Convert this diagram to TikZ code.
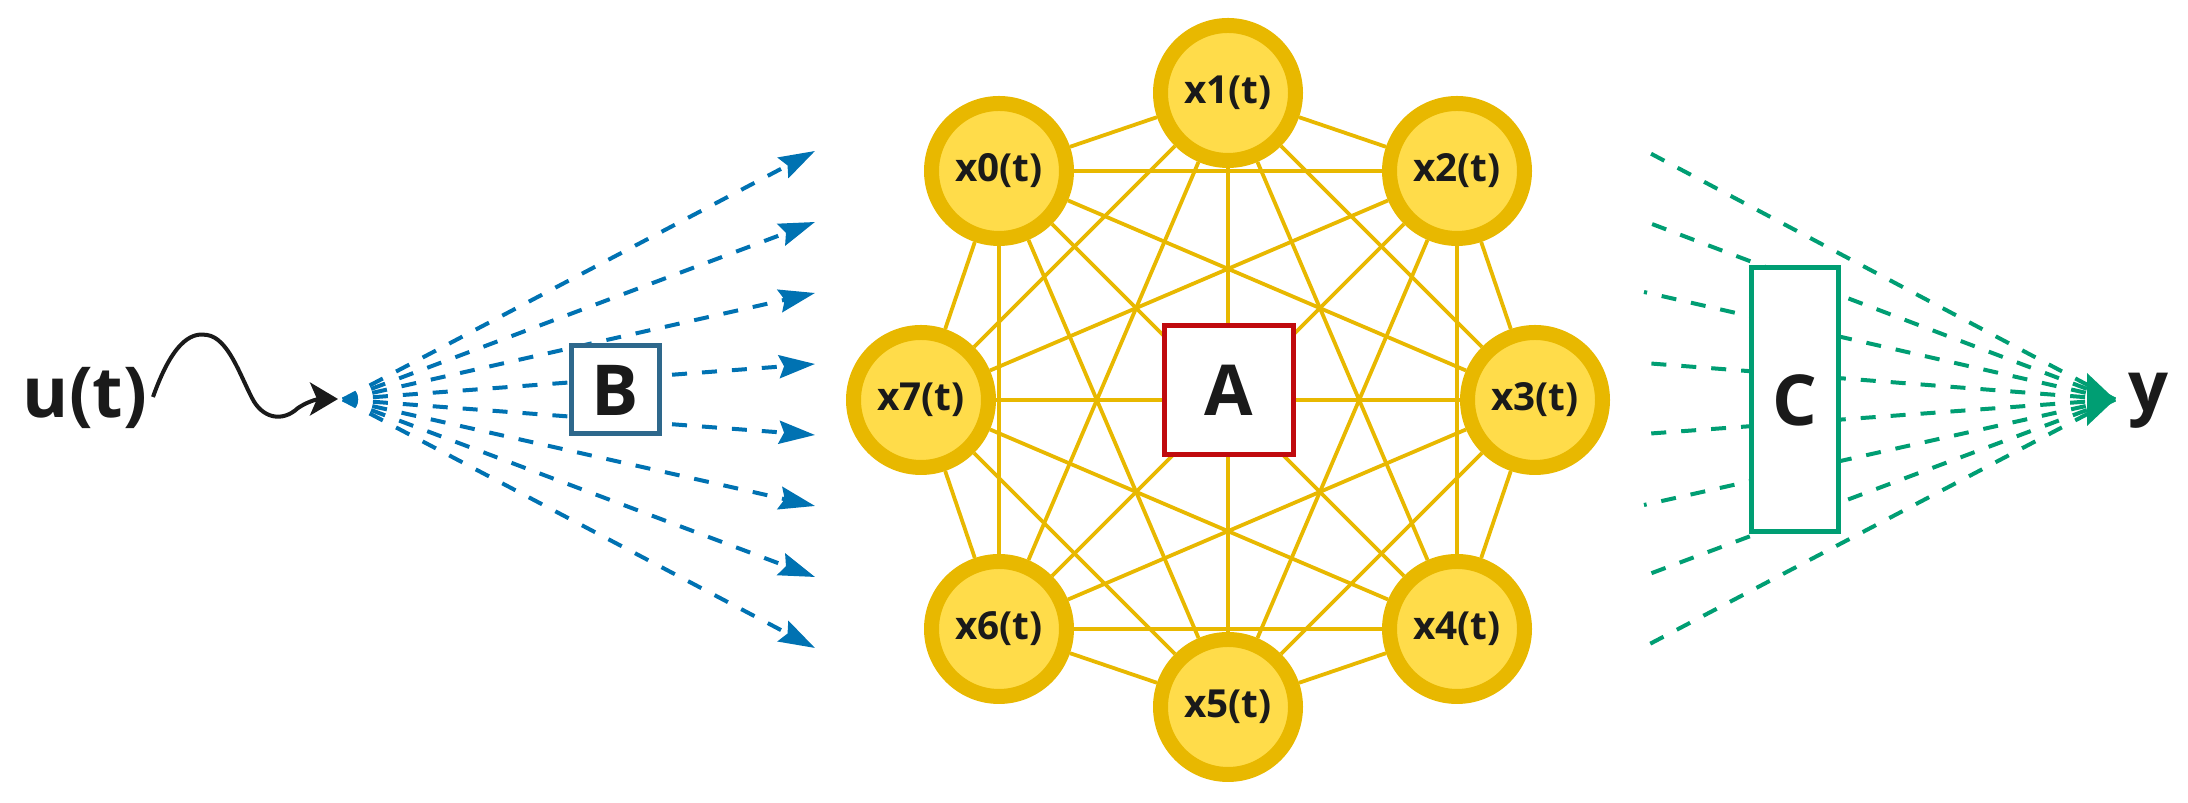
\documentclass[tikz,border=0pt]{standalone}
\usepackage{fontspec}
\setmainfont{Open Sans}
\usetikzlibrary{arrows.meta}
\definecolor{ringyel}{RGB}{232,184,0}
\definecolor{fillyel}{RGB}{255,220,74}
\definecolor{fanblue}{RGB}{0,114,178}
\definecolor{fangreen}{RGB}{0,158,115}
\definecolor{boxred}{RGB}{192,10,14}
\definecolor{boxsteel}{RGB}{46,104,140}
\definecolor{ink}{RGB}{26,26,26}
\tikzset{
  every node/.style = {font = \bfseries, text = ink}
}
\tikzset{
  state/.style = {circle, draw=ringyel, fill=fillyel, line width=1.5mm,
    minimum size=13.5mm, inner sep=0pt, font=\fontsize{11}{13}\bfseries},
  matbox/.style = {rectangle, fill=white, line width=0.5mm, inner sep=0pt,
    font=\fontsize{20}{24}\bfseries},
  link/.style = {ringyel, line width=0.38mm},
  bfan/.style = {fanblue, line width=0.4mm, dash pattern=on 1.5mm off 1.5mm,
    -{Stealth[length=3.6mm,width=2.3mm,inset=0.5mm]}},
  gfan/.style = {fangreen, line width=0.4mm, dash pattern=on 1.5mm off 1.5mm}
}

\begin{document}
\begin{tikzpicture}[x=0.1mm,y=-0.1mm]
\useasboundingbox (0,0) rectangle (2188,803);

% States on the ring
\node[state] (x0) at (999,171)  {x0(t)};
\node[state] (x1) at (1228,93)  {x1(t)};
\node[state] (x2) at (1457,171) {x2(t)};
\node[state] (x3) at (1535,400) {x3(t)};
\node[state] (x4) at (1457,629) {x4(t)};
\node[state] (x5) at (1228,707) {x5(t)};
\node[state] (x6) at (999,629)  {x6(t)};
\node[state] (x7) at (921,400)  {x7(t)};

% Every state linked to every other one
\foreach \i in {0,...,6} {
  \pgfmathtruncatemacro\jstart{\i+1}
  \foreach \j in {\jstart,...,7}
    \draw[link] (x\i) -- (x\j);
}

\node[matbox, draw=boxred, minimum size=12.9mm] (A) at (1229,390) {A};

% Input side
\node[font=\fontsize{20}{24}\bfseries, anchor=base, inner sep=0pt] (u) at (85,418) {u(t)};
\coordinate (wstart) at (153,397);
\coordinate (wtip) at (338,399);
\draw[ink, line width=0.4mm, -{Stealth[length=2.8mm,width=3.3mm,inset=0.7mm]}]
  (wstart) .. controls (175,335) and (195,333) .. (207,335)
  .. controls (228,338) and (240,375) .. (252,398)
  .. controls (262,418) and (282,423) .. (298,408)
  .. controls (310,400) and (320,399) .. (wtip);

\coordinate (bsrc) at (343,399.5);
\foreach \k in {0,...,7} {
  \coordinate (b\k) at (815,{151+71*\k});
  \draw[bfan] (bsrc) -- (b\k);
}
\node[matbox, draw=boxsteel, minimum size=8.8mm] (B) at (615,390) {B};

% Output side
\coordinate (gsink) at (2115,399.5);
\foreach \k in {0,...,7} {
  \coordinate (g\k) at (1644,{150+71*\k});
  \draw[gfan] (gsink) -- (g\k);
}
\node[matbox, draw=fangreen, minimum width=8.7mm, minimum height=26.4mm] (C) at (1795,400) {C};
\fill[fangreen] (2087,373) -- (gsink) -- (2087,426) -- cycle;
\node[font=\fontsize{20}{24}\bfseries, anchor=base, inner sep=0pt] (y) at (2148,412) {y};
\end{tikzpicture}
\end{document}
